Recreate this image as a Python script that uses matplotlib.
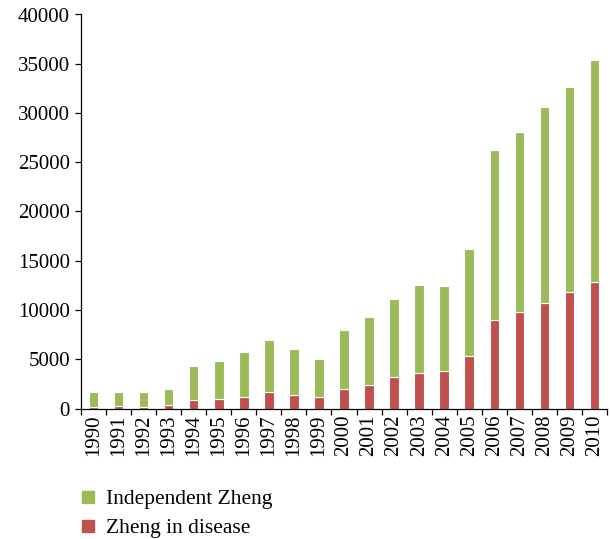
import matplotlib
matplotlib.use("Agg")
import matplotlib.pyplot as plt
from matplotlib.lines import Line2D
import numpy as np

years = [str(y) for y in range(1990, 2011)]
zheng_in_disease = [170, 240, 200, 340, 850, 950, 1185, 1625, 1390, 1120,
                    2000, 2370, 3150, 3650, 3790, 5280, 8940, 9750, 10760, 11850, 12890]
total = [1650, 1690, 1690, 2030, 4300, 4800, 5750, 6940, 6090, 4975,
         8020, 9310, 11070, 12490, 12420, 16240, 26290, 28120, 30560, 32590, 35360]
independent_zheng = [t - r for t, r in zip(total, zheng_in_disease)]

green = "#9BBB59"
red = "#C0504D"

plt.rcParams['font.family'] = ['Liberation Serif', 'DejaVu Serif']

fig = plt.figure(figsize=(6.10, 5.39), dpi=100)
ax = fig.add_axes([81/610, 1 - 408.5/539, 526/610, (408.5-14.5)/539])

x = np.arange(len(years))
w = 0.38
ax.bar(x, zheng_in_disease, width=w, color=red, edgecolor="white", linewidth=0.8)
ax.bar(x, independent_zheng, width=w, bottom=zheng_in_disease, color=green,
       edgecolor="white", linewidth=0.8)

ax.set_xlim(-0.5, len(years) - 0.5)
ax.set_ylim(0, 40000)
ax.set_yticks(np.arange(0, 40001, 5000))
ax.tick_params(axis='y', labelsize=15, direction='out', length=4, width=0.9, pad=4)
ax.set_xticks(x)
ax.set_xticklabels(years, rotation=90, fontsize=15)
ax.tick_params(axis='x', length=0, pad=4)
ax.set_xticks(np.arange(-0.5, len(years), 1), minor=True)
ax.tick_params(axis='x', which='minor', direction='out', length=4, width=0.9)
for s in ['top', 'right']:
    ax.spines[s].set_visible(False)
for s in ['left', 'bottom']:
    ax.spines[s].set_linewidth(0.9)

handles = [Line2D([0], [0], marker='s', color='none', markerfacecolor=green,
                  markeredgecolor=green, markersize=8, label='Independent Zheng'),
           Line2D([0], [0], marker='s', color='none', markerfacecolor=red,
                  markeredgecolor=red, markersize=8, label='Zheng in disease')]
fig.legend(handles=handles, loc='upper left', bbox_to_anchor=(80/610, 1 - 489/539),
           frameon=False, fontsize=15.5, handlelength=0.7, handletextpad=0.5,
           labelspacing=0.42, borderaxespad=0, borderpad=0)

fig.savefig("out.png", dpi=100)
